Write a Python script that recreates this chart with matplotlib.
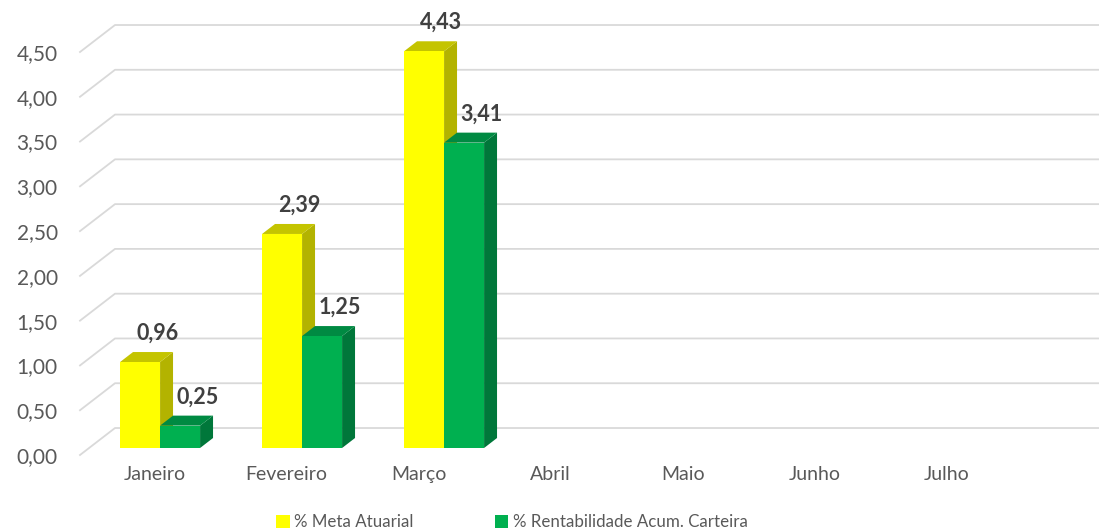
import numpy as np
import matplotlib
matplotlib.use("Agg")
import matplotlib.pyplot as plt
from matplotlib.patches import Polygon, Patch

# dados
meses = ['Janeiro', 'Fevereiro', 'Março', 'Abril', 'Maio', 'Junho', 'Julho']
meta_atuarial = [0.96, 2.39, 4.43]
rentabilidade = [0.25, 1.25, 3.41]
nomes_series = ['% Meta Atuarial', '% Rentabilidade Acum. Carteira']
yticks = np.arange(0, 4.51, 0.5)

plt.rcParams['font.family'] = ['Lato', 'DejaVu Sans']

# cores (frente, lado, topo)
cores = [('#FFFF00', '#B3B300', '#C4C400'),
         ('#00B050', '#00773A', '#008A42')]

W, H = 1099, 531
fig = plt.figure(figsize=(W / 100, H / 100), dpi=100)
# eixo frontal: x=-0.5 em 80px, 142px por categoria; y=0 em 455px, 4.5 em 52px
ax = fig.add_axes([80 / W, (H - 455) / H, 7 * 142 / W, 403 / H])
ax.set_xlim(-0.5, 6.5)
ax.set_ylim(0, 4.5)

# projeção oblíqua (profundidade 1 = 35px p/ direita, 27px p/ cima)
DX = 35 / 142
DY = 27 / 89.6


def proj(x, y, z):
    return (x + z * DX, y + z * DY)


grid_cor = '#D9D9D9'
for v in yticks:
    p0 = proj(-0.5, v, 0)
    p1 = proj(-0.5, v, 1)
    p2 = proj(7.0, v, 1)
    ax.plot([p0[0], p1[0], p2[0]], [p0[1], p1[1], p2[1]], color=grid_cor,
            lw=1.3, clip_on=False, zorder=1)

largura = 40 / 142
z_frente = 7 / 27
z_tras = z_frente + 10 / 27


def barra(xc, h, cor):
    x0, x1 = xc - largura / 2, xc + largura / 2
    frente = [proj(x0, 0, z_frente), proj(x1, 0, z_frente),
              proj(x1, h, z_frente), proj(x0, h, z_frente)]
    lado = [proj(x1, 0, z_frente), proj(x1, 0, z_tras),
            proj(x1, h, z_tras), proj(x1, h, z_frente)]
    topo = [proj(x0, h, z_frente), proj(x1, h, z_frente),
            proj(x1, h, z_tras), proj(x0, h, z_tras)]
    for pts, c in [(lado, cor[1]), (topo, cor[2]), (frente, cor[0])]:
        ax.add_patch(Polygon(pts, closed=True, facecolor=c, edgecolor='none',
                             zorder=3, clip_on=False))


for s, serie in enumerate([meta_atuarial, rentabilidade]):
    for i, v in enumerate(serie):
        xc = i + (s - 0.5) * largura
        barra(xc, v, cores[s])
        lx, ly = proj(xc, v, z_tras)
        ax.annotate(f'{v:.2f}'.replace('.', ','), (lx + 0.03, ly),
                    xytext=(0, 6), textcoords='offset points',
                    ha='center', va='bottom', fontsize=15.5,
                    fontweight='bold', color='#404040', zorder=5,
                    annotation_clip=False)

# rótulos dos eixos
ax.set_yticks(yticks)
ax.set_yticklabels([f'{v:.2f}'.replace('.', ',') for v in yticks],
                   fontsize=15, color='#595959')
pos_rotulos = 0.025 + 0.93 * np.arange(len(meses))
ax.set_xticks(pos_rotulos)
ax.set_xticklabels(meses, fontsize=14, color='#595959')
ax.tick_params(axis='y', length=0, pad=16)
ax.tick_params(axis='x', length=0, pad=8)
for sp in ax.spines.values():
    sp.set_visible(False)
ax.patch.set_visible(False)

handles = [Patch(facecolor=cores[0][0]), Patch(facecolor=cores[1][0])]
fig.legend(handles, nomes_series, loc='center', ncol=2, frameon=False,
           bbox_to_anchor=(512 / W, 1 - 522 / H), fontsize=12.2,
           handlelength=0.8, handleheight=0.8, handletextpad=0.25,
           columnspacing=4.8, labelcolor='#595959')

fig.savefig('out.png', dpi=100)
